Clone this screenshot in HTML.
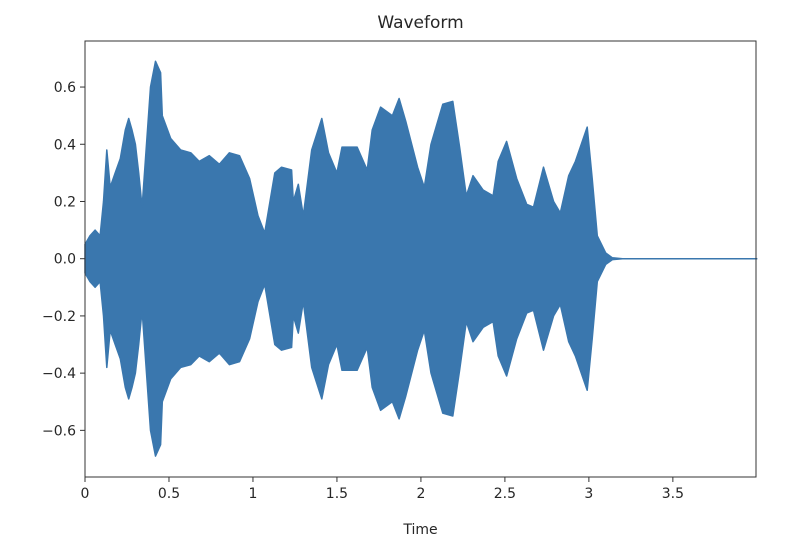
<!DOCTYPE html>
<html><head><meta charset="utf-8"><style>
body{margin:0;background:#fff;}
svg text{font-family:"DejaVu Sans","Liberation Sans",sans-serif;fill:#262626;}
</style></head><body>
<svg id="chart" width="796" height="550">
</svg>
<script>
const times = [0,0.03,0.06,0.09,0.11,0.13,0.15,0.18,0.21,0.24,0.26,0.28,0.30,0.32,0.34,0.36,0.39,0.42,0.45,0.46,0.51,0.57,0.63,0.68,0.74,0.80,0.86,0.92,0.98,1.03,1.07,1.13,1.17,1.23,1.24,1.27,1.30,1.35,1.41,1.45,1.50,1.53,1.62,1.68,1.71,1.76,1.83,1.87,1.91,1.98,2.02,2.06,2.13,2.19,2.23,2.27,2.31,2.37,2.43,2.46,2.51,2.57,2.63,2.67,2.73,2.79,2.83,2.88,2.92,2.99,3.02,3.05,3.10,3.14,3.20,4.0];
const amps  = [0.05,0.08,0.10,0.08,0.20,0.38,0.25,0.30,0.35,0.45,0.49,0.45,0.40,0.30,0.18,0.35,0.60,0.69,0.65,0.50,0.42,0.38,0.37,0.34,0.36,0.33,0.37,0.36,0.28,0.15,0.09,0.30,0.32,0.31,0.20,0.26,0.15,0.38,0.49,0.37,0.30,0.39,0.39,0.31,0.45,0.53,0.50,0.56,0.48,0.32,0.25,0.40,0.54,0.55,0.39,0.22,0.29,0.24,0.22,0.34,0.41,0.28,0.19,0.18,0.32,0.20,0.16,0.29,0.34,0.46,0.28,0.08,0.02,0.003,0,0];
const xTicks = [0,0.5,1,1.5,2,2.5,3,3.5];
const xTickLabels = ["0","0.5","1","1.5","2","2.5","3","3.5"];
const yTicks = [0.6,0.4,0.2,0.0,-0.2,-0.4,-0.6];
const yTickLabels = ["0.6","0.4","0.2","0.0","\u22120.2","\u22120.4","\u22120.6"];

const L=85,R=756,T=41,B=477, xMax=3.995, yMax=0.762;
const X=t=>L+(t/xMax)*(R-L);
const Y=v=>258.7 - v*(B-T)/(2*yMax);
const svg=document.getElementById('chart');
const NS='http://www.w3.org/2000/svg';
function mk(tag,attrs){const e=document.createElementNS(NS,tag);for(const k in attrs)e.setAttribute(k,attrs[k]);svg.appendChild(e);return e;}

const upperPts=times.map((t,i)=>X(t).toFixed(1)+','+Y(amps[i]).toFixed(1));
const lowerPts=times.map((t,i)=>X(t).toFixed(1)+','+Y(-amps[i]).toFixed(1)).reverse();
const wave=mk('polygon',{points:upperPts.concat(lowerPts).join(' '),fill:'#3a77ae',stroke:'#3a77ae','stroke-width':1.5,'stroke-linejoin':'round'});



const frame=mk('rect',{x:L,y:T,width:R-L,height:B-T,fill:'none',stroke:'#333','stroke-width':1});



xTicks.forEach((v,i)=>{
  const tk=mk('line',{x1:X(v),x2:X(v),y1:B,y2:B+5,stroke:'#333'});
  
  
  const tx=mk('text',{x:X(v),y:B+21,'text-anchor':'middle','font-size':14});
  tx.textContent=xTickLabels[i];
  
  
});
yTicks.forEach((v,i)=>{
  const tk=mk('line',{x1:L-5,x2:L,y1:Y(v),y2:Y(v),stroke:'#333'});
  
  
  const tx=mk('text',{x:L-9,y:Y(v)+5,'text-anchor':'end','font-size':14});
  tx.textContent=yTickLabels[i];
  
  
});
const title=mk('text',{x:(L+R)/2,y:28,'text-anchor':'middle','font-size':17});
title.textContent='Waveform';


const xl=mk('text',{x:(L+R)/2,y:534,'text-anchor':'middle','font-size':14});
xl.textContent='Time';


</script>
</body></html>
